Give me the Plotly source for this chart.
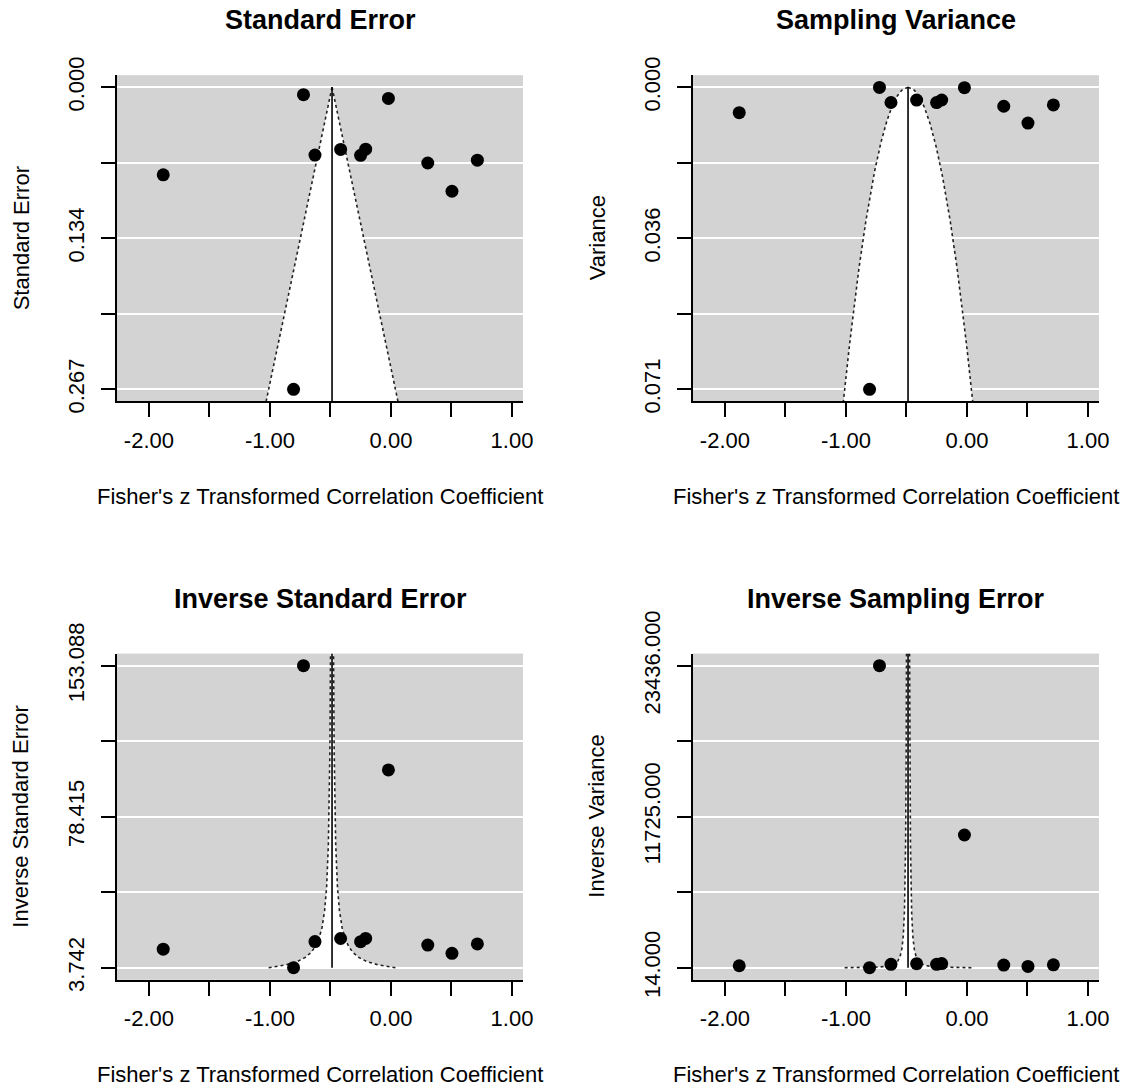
import numpy as np
import plotly.graph_objects as go

# ---------------- data ----------------
yi = [-1.882, -0.723, -0.628, -0.416, -0.251, -0.209, -0.021, 0.304, 0.504, 0.714, -0.805]
sei = [0.0775, 0.006532, 0.0600, 0.0550, 0.0602, 0.0548, 0.00985, 0.0670, 0.0920, 0.0645, 0.26724]
estimate = -0.487

x_tickvals = [-2.0, -1.5, -1.0, -0.5, 0.0, 0.5, 1.0]
x_ticktext = ["-2.00", "", "-1.00", "", "0.00", "", "1.00"]

se_ticktext = ["0.000", "", "0.134", "", "0.267"]
var_ticktext = ["0.000", "", "0.036", "", "0.071"]
invse_ticktext = ["3.742", "", "78.415", "", "153.088"]
invvar_ticktext = ["14.000", "", "11725.000", "", "23436.000"]

titles = ["Standard Error", "Sampling Variance", "Inverse Standard Error", "Inverse Sampling Error"]
ytitles = ["Standard Error", "Variance", "Inverse Standard Error", "Inverse Variance"]
xtitle = "Fisher's z Transformed Correlation Coefficient"

# ---------------- derived quantities ----------------
yi = np.array(yi)
sei = np.array(sei)
vi = sei ** 2
inv_se = 1 / sei
inv_vi = 1 / vi

W, H = 1136, 1089
FONT = "Liberation Sans, Arial, Helvetica, sans-serif"
GRAY = "#D3D3D3"

def px(x):
    return x / W

def py(y):
    return 1 - y / H

x_range = [-2.264, 1.091]
xdom_left = [px(117), px(523)]
xdom_right = [px(693), px(1099)]
ydom_top = [py(401.4), py(75.2)]
ydom_bot = [py(979.8), py(653.6)]

fig = go.Figure()

def ext(lo, hi):
    d = hi - lo
    return lo - 0.04 * d, hi + 0.04 * d

panels = []
# panel 1: standard error (reversed)
lo, hi = 0.0, sei.max()
elo, ehi = ext(lo, hi)
yy = np.linspace(0, ehi, 200)
panels.append(dict(y=sei, lo=lo, hi=hi, rng=[ehi, elo], fy=yy, fhw=1.96 * yy,
                   vline=[0, ehi], ticktext=se_ticktext))
# panel 2: variance (reversed)
lo, hi = 0.0, vi.max()
elo, ehi = ext(lo, hi)
yy = np.linspace(0, ehi, 300)
panels.append(dict(y=vi, lo=lo, hi=hi, rng=[ehi, elo], fy=yy, fhw=1.96 * np.sqrt(yy),
                   vline=[0, ehi], ticktext=var_ticktext))
# panel 3: inverse standard error
lo, hi = inv_se.min(), inv_se.max()
elo, ehi = ext(lo, hi)
yy = np.geomspace(lo, ehi, 400)
panels.append(dict(y=inv_se, lo=lo, hi=hi, rng=[elo, ehi], fy=yy, fhw=1.96 / yy,
                   vline=[lo, ehi], ticktext=invse_ticktext))
# panel 4: inverse variance
lo, hi = inv_vi.min(), inv_vi.max()
elo, ehi = ext(lo, hi)
yy = np.geomspace(lo, ehi, 600)
panels.append(dict(y=inv_vi, lo=lo, hi=hi, rng=[elo, ehi], fy=yy, fhw=1.96 / np.sqrt(yy),
                   vline=[lo, ehi], ticktext=invvar_ticktext))

doms = [(xdom_left, ydom_top), (xdom_right, ydom_top), (xdom_left, ydom_bot), (xdom_right, ydom_bot)]

annotations = []
layout_axes = {}
for i, p in enumerate(panels):
    n = "" if i == 0 else str(i + 1)
    xa, ya = "x" + n, "y" + n
    # funnel fill (white)
    fx = np.concatenate([estimate - p["fhw"], (estimate + p["fhw"])[::-1]])
    fy = np.concatenate([p["fy"], p["fy"][::-1]])
    fig.add_trace(go.Scatter(x=fx, y=fy, mode="lines", fill="toself", fillcolor="white",
                             line=dict(width=0, color="white"), xaxis=xa, yaxis=ya,
                             hoverinfo="skip", showlegend=False))
    # dotted boundaries
    for sgn in (-1, 1):
        fig.add_trace(go.Scatter(x=estimate + sgn * p["fhw"], y=p["fy"], mode="lines",
                                 line=dict(color="#222222", width=1.6, dash="dot"),
                                 xaxis=xa, yaxis=ya, hoverinfo="skip", showlegend=False))
    # reference line
    fig.add_trace(go.Scatter(x=[estimate, estimate], y=p["vline"], mode="lines",
                             line=dict(color="black", width=1.6), xaxis=xa, yaxis=ya,
                             hoverinfo="skip", showlegend=False))
    # points
    fig.add_trace(go.Scatter(x=yi, y=p["y"], mode="markers",
                             marker=dict(color="black", size=13, line=dict(width=0)),
                             xaxis=xa, yaxis=ya, showlegend=False))

    xd, yd = doms[i]
    tickvals_y = list(np.linspace(p["lo"], p["hi"], 5))
    layout_axes["xaxis" + n] = dict(
        domain=xd, range=x_range, anchor=ya, showgrid=False, zeroline=False,
        automargin=False,
        showline=True, linecolor="black", linewidth=2,
        ticks="outside", ticklen=14, tickwidth=2, tickcolor="black",
        tickvals=x_tickvals, ticktext=x_ticktext,
        tickfont=dict(family=FONT, size=22, color="black"), ticklabelstandoff=4,
    )
    layout_axes["yaxis" + n] = dict(
        domain=yd, range=p["rng"], anchor=xa, showgrid=True, gridcolor="white", gridwidth=2,
        automargin=False,
        zeroline=False, showline=True, linecolor="black", linewidth=2,
        ticks="outside", ticklen=14, tickwidth=2, tickcolor="black",
        tickvals=tickvals_y, ticktext=p["ticktext"], tickangle=-90,
        tickfont=dict(family=FONT, size=22, color="black"), ticklabelstandoff=8,
    )
    cx = (xd[0] + xd[1]) / 2
    top_px = (1 - yd[1]) * H
    bot_px = (1 - yd[0]) * H
    left_px = xd[0] * W
    annotations.append(dict(text="<b>" + titles[i] + "</b>", x=cx, y=py(top_px - 55),
                            xref="paper", yref="paper", showarrow=False,
                            xanchor="center", yanchor="middle",
                            font=dict(family=FONT, size=27, color="black")))
    annotations.append(dict(text=xtitle, x=cx, y=py(bot_px + 95),
                            xref="paper", yref="paper", showarrow=False,
                            xanchor="center", yanchor="middle",
                            font=dict(family=FONT, size=22, color="black")))
    annotations.append(dict(text=ytitles[i], x=px(left_px - 96), y=(yd[0] + yd[1]) / 2,
                            xref="paper", yref="paper", showarrow=False, textangle=-90,
                            xanchor="center", yanchor="middle",
                            font=dict(family=FONT, size=22, color="black")))

fig.update_layout(
    width=W, height=H, margin=dict(l=0, r=0, t=0, b=0, autoexpand=False),
    paper_bgcolor="white", plot_bgcolor=GRAY,
    font=dict(family=FONT, size=22, color="black"),
    annotations=annotations, showlegend=False,
    **layout_axes,
)

fig.write_html("out.html")
